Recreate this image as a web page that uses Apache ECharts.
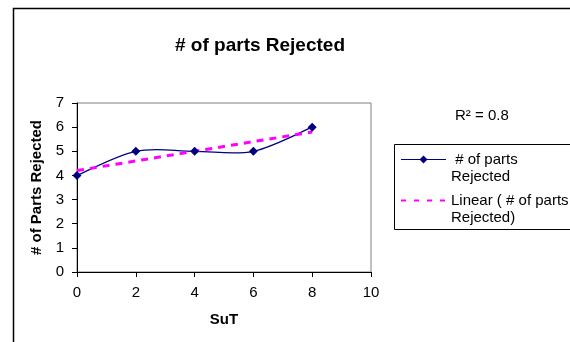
<!DOCTYPE html>
<html>
<head>
<meta charset="utf-8">
<script src="https://cdn.jsdelivr.net/npm/echarts@6/dist/echarts.min.js"></script>
<style>
  html, body { margin: 0; padding: 0; background: #fff; }
  #chart { width: 570px; height: 342px; }
</style>
</head>
<body>
<div id="chart"></div>
<script>
// data
var sut = [0, 2, 4, 6, 8];
var rejected = [4, 5, 5, 5, 6];
// linear trendline ends
var trendX = [0, 8];
var trendY = [4.2, 5.8];
var rSquared = '0.8';

var font = 'Liberation Sans, Arial, sans-serif';
var seriesName = ' # of parts\nRejected';
var trendName = 'Linear ( # of parts\nRejected)';

var chart = echarts.init(document.getElementById('chart'));

var points = sut.map(function (x, i) { return [x, rejected[i]]; });
var trend = trendX.map(function (x, i) { return [x, trendY[i]]; });

// Excel-like smoothed line: cubic bezier through the points (Catmull-Rom handles)
function renderSmooth(params, api) {
  if (params.dataIndex !== 0) return null;
  var px = points.map(function (p) { return api.coord(p); });
  var n = px.length;
  var d = 'M' + px[0][0] + ' ' + px[0][1];
  for (var i = 0; i < n - 1; i++) {
    var p0 = px[Math.max(i - 1, 0)], p1 = px[i], p2 = px[i + 1], p3 = px[Math.min(i + 2, n - 1)];
    var c1x = p1[0] + (p2[0] - p0[0]) / 6, c1y = p1[1] + (p2[1] - p0[1]) / 6;
    var c2x = p2[0] - (p3[0] - p1[0]) / 6, c2y = p2[1] - (p3[1] - p1[1]) / 6;
    d += ' C' + c1x + ' ' + c1y + ' ' + c2x + ' ' + c2y + ' ' + p2[0] + ' ' + p2[1];
  }
  return {
    type: 'path',
    shape: { pathData: d },
    style: { fill: 'none', stroke: '#000080', lineWidth: 1.3 }
  };
}

var option = {
  backgroundColor: '#fff',
  animation: false,
  textStyle: { fontFamily: font, color: '#000' },
  title: [
    {
      text: '# of parts Rejected',
      left: 255, top: 31, textAlign: 'center',
      textStyle: { fontFamily: font, fontSize: 19, fontWeight: 'bold', color: '#000' }
    },
    {
      text: 'R² = ' + rSquared,
      left: 450, top: 103,
      textStyle: { fontFamily: font, fontSize: 15, fontWeight: 'normal', color: '#000' }
    }
  ],
  graphic: [
    { type: 'rect', shape: { x: 13.5, y: 8.5, width: 700, height: 500 },
      style: { fill: 'none', stroke: '#000', lineWidth: 1.5 }, silent: true },
    { type: 'rect', shape: { x: 394.5, y: 144.5, width: 300, height: 85 },
      style: { fill: 'none', stroke: '#000', lineWidth: 1 }, silent: true }
  ],
  legend: {
    orient: 'vertical',
    left: 400, top: 134,
    padding: 0,
    itemWidth: 45, itemHeight: 10, itemGap: -10,
    textStyle: { fontFamily: font, fontSize: 15, color: '#000', lineHeight: 17 },
    formatter: function (name) { return '\n' + name; },
    data: [
      { name: seriesName, lineStyle: { color: '#000080', width: 1.2, opacity: 1 } },
      { name: trendName, itemStyle: { opacity: 0 }, lineStyle: { type: [5, 8] } }
    ]
  },
  grid: { left: 77, top: 103, width: 294, height: 169, show: true, borderColor: '#808080', borderWidth: 1 },
  xAxis: {
    type: 'value', min: 0, max: 10, interval: 2,
    name: 'SuT', nameLocation: 'middle', nameGap: 40,
    nameTextStyle: { fontFamily: font, fontSize: 15, fontWeight: 'bold', color: '#000' },
    axisLine: { lineStyle: { color: '#000', width: 1 } },
    axisTick: { show: true, length: 5, lineStyle: { color: '#000' } },
    axisLabel: { fontFamily: font, fontSize: 15, color: '#000', margin: 13 },
    splitLine: { show: false }
  },
  yAxis: {
    type: 'value', min: 0, max: 7, interval: 1,
    name: '# of Parts Rejected', nameLocation: 'middle', nameGap: 32,
    nameTextStyle: { fontFamily: font, fontSize: 15, fontWeight: 'bold', color: '#000' },
    axisLine: { show: true, lineStyle: { color: '#000', width: 1 } },
    axisTick: { show: true, length: 5, lineStyle: { color: '#000' } },
    axisLabel: { fontFamily: font, fontSize: 15, color: '#000', margin: 13 },
    splitLine: { show: false }
  },
  series: [
    {
      name: 'curve',
      type: 'custom',
      renderItem: renderSmooth,
      data: points,
      z: 2
    },
    {
      name: trendName,
      type: 'line',
      data: trend,
      symbol: 'none',
      lineStyle: { color: '#ff00ff', width: 3, type: [7, 6] },
      itemStyle: { color: '#ff00ff' },
      z: 3
    },
    {
      name: seriesName,
      type: 'line',
      data: points,
      symbol: 'diamond',
      symbolSize: 9,
      lineStyle: { width: 0, opacity: 0 },
      itemStyle: { color: '#000080' },
      z: 4
    }
  ]
};

chart.setOption(option);
</script>
</body>
</html>
